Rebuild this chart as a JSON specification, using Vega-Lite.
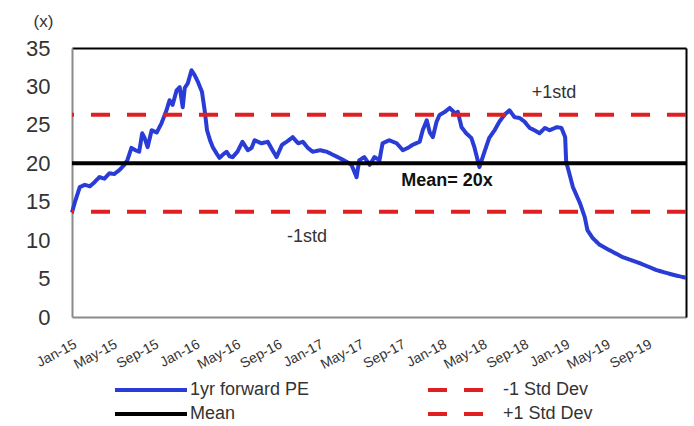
{
  "$schema": "https://vega.github.io/schema/vega-lite/v6.json",
  "width": 614,
  "height": 269,
  "autosize": "none",
  "padding": {"left": 72, "top": 48, "right": 8, "bottom": 109},
  "background": "white",
  "config": {
    "view": {"stroke": null},
    "font": "Liberation Sans",
    "legend": {
      "orient": "none", "legendX": 41, "legendY": 333,
      "columns": 2, "columnPadding": 116, "rowPadding": 6, "clipHeight": 18,
      "symbolType": "stroke", "symbolSize": 5184, "symbolStrokeWidth": 4,
      "labelFontSize": 18, "labelColor": "#333333", "labelOffset": 1, "labelLimit": 0,
      "padding": 0, "titlePadding": 0
    }
  },
  "datasets": {
    "pe": [
      {"date": "2015-01-01", "pe": 13.6}, {"date": "2015-01-10", "pe": 15.0}, {"date": "2015-01-24", "pe": 16.9},
      {"date": "2015-02-08", "pe": 17.2}, {"date": "2015-02-23", "pe": 17.0}, {"date": "2015-03-08", "pe": 17.5},
      {"date": "2015-03-23", "pe": 18.2}, {"date": "2015-04-07", "pe": 18.0}, {"date": "2015-04-22", "pe": 18.7},
      {"date": "2015-05-06", "pe": 18.6}, {"date": "2015-05-21", "pe": 19.1}, {"date": "2015-06-05", "pe": 19.8},
      {"date": "2015-06-14", "pe": 20.4}, {"date": "2015-06-26", "pe": 22.0}, {"date": "2015-07-08", "pe": 21.7},
      {"date": "2015-07-19", "pe": 21.5}, {"date": "2015-07-28", "pe": 23.9}, {"date": "2015-08-04", "pe": 23.3},
      {"date": "2015-08-13", "pe": 22.1}, {"date": "2015-08-25", "pe": 24.3}, {"date": "2015-09-09", "pe": 24.0},
      {"date": "2015-09-23", "pe": 25.2}, {"date": "2015-10-08", "pe": 26.9}, {"date": "2015-10-17", "pe": 28.2},
      {"date": "2015-10-26", "pe": 27.6}, {"date": "2015-11-07", "pe": 29.5}, {"date": "2015-11-16", "pe": 29.9},
      {"date": "2015-11-25", "pe": 27.3}, {"date": "2015-12-01", "pe": 29.8}, {"date": "2015-12-10", "pe": 30.4},
      {"date": "2015-12-21", "pe": 32.1}, {"date": "2015-12-30", "pe": 31.5}, {"date": "2016-01-09", "pe": 30.6},
      {"date": "2016-01-21", "pe": 29.3}, {"date": "2016-01-29", "pe": 26.9}, {"date": "2016-02-05", "pe": 24.3},
      {"date": "2016-02-14", "pe": 23.0}, {"date": "2016-02-22", "pe": 22.1}, {"date": "2016-03-04", "pe": 21.3},
      {"date": "2016-03-13", "pe": 20.7}, {"date": "2016-03-25", "pe": 21.2}, {"date": "2016-04-03", "pe": 21.5},
      {"date": "2016-04-12", "pe": 20.9}, {"date": "2016-04-21", "pe": 20.8}, {"date": "2016-05-05", "pe": 21.5},
      {"date": "2016-05-20", "pe": 22.8}, {"date": "2016-06-05", "pe": 21.7}, {"date": "2016-06-16", "pe": 22.0},
      {"date": "2016-06-25", "pe": 23.0}, {"date": "2016-07-15", "pe": 22.6}, {"date": "2016-08-03", "pe": 22.8},
      {"date": "2016-08-17", "pe": 21.7}, {"date": "2016-08-29", "pe": 20.8}, {"date": "2016-09-14", "pe": 22.4},
      {"date": "2016-09-28", "pe": 22.8}, {"date": "2016-10-16", "pe": 23.4}, {"date": "2016-11-01", "pe": 22.6},
      {"date": "2016-11-15", "pe": 22.8}, {"date": "2016-11-30", "pe": 22.0}, {"date": "2016-12-14", "pe": 21.5},
      {"date": "2017-01-05", "pe": 21.7}, {"date": "2017-01-25", "pe": 21.5}, {"date": "2017-02-12", "pe": 21.1},
      {"date": "2017-03-03", "pe": 20.7}, {"date": "2017-03-24", "pe": 20.2}, {"date": "2017-04-08", "pe": 19.8},
      {"date": "2017-04-23", "pe": 18.2}, {"date": "2017-05-01", "pe": 20.4}, {"date": "2017-05-16", "pe": 20.8},
      {"date": "2017-06-01", "pe": 19.8}, {"date": "2017-06-15", "pe": 20.8}, {"date": "2017-06-30", "pe": 20.4},
      {"date": "2017-07-09", "pe": 22.6}, {"date": "2017-07-29", "pe": 23.0}, {"date": "2017-08-20", "pe": 22.6},
      {"date": "2017-09-07", "pe": 21.7}, {"date": "2017-09-22", "pe": 22.0}, {"date": "2017-10-06", "pe": 22.4},
      {"date": "2017-10-27", "pe": 22.8}, {"date": "2017-11-05", "pe": 24.3}, {"date": "2017-11-17", "pe": 25.6},
      {"date": "2017-11-26", "pe": 24.0}, {"date": "2017-12-05", "pe": 23.4}, {"date": "2017-12-16", "pe": 25.4},
      {"date": "2017-12-25", "pe": 26.3}, {"date": "2018-01-10", "pe": 26.7}, {"date": "2018-01-24", "pe": 27.2},
      {"date": "2018-02-09", "pe": 26.5}, {"date": "2018-02-17", "pe": 26.7}, {"date": "2018-02-28", "pe": 24.7},
      {"date": "2018-03-14", "pe": 23.9}, {"date": "2018-03-29", "pe": 23.3}, {"date": "2018-04-07", "pe": 22.1},
      {"date": "2018-04-22", "pe": 19.5}, {"date": "2018-05-07", "pe": 21.5}, {"date": "2018-05-21", "pe": 23.3},
      {"date": "2018-06-06", "pe": 24.3}, {"date": "2018-06-20", "pe": 25.4}, {"date": "2018-07-05", "pe": 26.3},
      {"date": "2018-07-20", "pe": 26.9}, {"date": "2018-08-04", "pe": 26.0}, {"date": "2018-08-19", "pe": 25.9},
      {"date": "2018-09-03", "pe": 25.4}, {"date": "2018-09-18", "pe": 24.6}, {"date": "2018-10-02", "pe": 24.3},
      {"date": "2018-10-17", "pe": 23.9}, {"date": "2018-11-02", "pe": 24.6}, {"date": "2018-11-16", "pe": 24.3},
      {"date": "2018-12-07", "pe": 24.7}, {"date": "2018-12-21", "pe": 24.6}, {"date": "2019-01-01", "pe": 23.4},
      {"date": "2019-01-04", "pe": 20.2}, {"date": "2019-01-12", "pe": 18.9}, {"date": "2019-01-24", "pe": 16.9},
      {"date": "2019-02-14", "pe": 14.8}, {"date": "2019-02-28", "pe": 13.0}, {"date": "2019-03-08", "pe": 11.3},
      {"date": "2019-03-23", "pe": 10.3}, {"date": "2019-04-13", "pe": 9.4}, {"date": "2019-05-12", "pe": 8.7},
      {"date": "2019-06-20", "pe": 7.8}, {"date": "2019-08-10", "pe": 7.0}, {"date": "2019-09-29", "pe": 6.1},
      {"date": "2019-11-16", "pe": 5.5}, {"date": "2019-12-25", "pe": 5.1}
    ],
    "bands": [
      {"series": "-1 Std Dev", "value": 13.7},
      {"series": "Mean", "value": 20},
      {"series": "+1 Std Dev", "value": 26.3}
    ],
    "notes": [
      {"date": "2018-11-29", "value": 29.1, "label": "+1std"},
      {"date": "2016-11-27", "value": 10.4, "label": "-1std"}
    ],
    "mean_note": [
      {"date": "2018-01-16", "value": 17.7, "label": "Mean= 20x"}
    ]
  },
  "layer": [
    {
      "data": {"name": "pe"},
      "mark": {"type": "line", "strokeWidth": 4, "strokeJoin": "round"},
      "encoding": {
        "x": {
          "field": "date", "type": "temporal",
          "scale": {"type": "utc", "domain": [
            {"year": 2015, "month": 1, "date": 1, "utc": true},
            {"year": 2019, "month": 12, "date": 25, "utc": true}
          ]},
          "axis": {
            "orient": "bottom",
            "values": [
              {"year": 2015, "month": 1, "date": 1, "utc": true}, {"year": 2015, "month": 5, "date": 1, "utc": true}, {"year": 2015, "month": 9, "date": 1, "utc": true},
              {"year": 2016, "month": 1, "date": 1, "utc": true}, {"year": 2016, "month": 5, "date": 1, "utc": true}, {"year": 2016, "month": 9, "date": 1, "utc": true},
              {"year": 2017, "month": 1, "date": 1, "utc": true}, {"year": 2017, "month": 5, "date": 1, "utc": true}, {"year": 2017, "month": 9, "date": 1, "utc": true},
              {"year": 2018, "month": 1, "date": 1, "utc": true}, {"year": 2018, "month": 5, "date": 1, "utc": true}, {"year": 2018, "month": 9, "date": 1, "utc": true},
              {"year": 2019, "month": 1, "date": 1, "utc": true}, {"year": 2019, "month": 5, "date": 1, "utc": true}, {"year": 2019, "month": 9, "date": 1, "utc": true}
            ],
            "format": "%b-%y",
            "labelAngle": -28,
            "labelAlign": "right",
            "labelBaseline": "top",
            "labelPadding": 20,
            "labelFontSize": 14,
            "labelColor": "#333333",
            "labelFlush": false,
            "labelOverlap": false,
            "labelBound": false,
            "ticks": false,
            "grid": false,
            "domainColor": "#8a8a8a",
            "domainWidth": 2,
            "title": null
          }
        },
        "y": {
          "field": "pe", "type": "quantitative",
          "scale": {"domain": [0, 35], "nice": false, "zero": false},
          "axis": {
            "orient": "left",
            "values": [0, 5, 10, 15, 20, 25, 30, 35],
            "labelFontSize": 22,
            "labelPadding": 22,
            "labelColor": "#333333",
            "ticks": false,
            "grid": false,
            "domainColor": "#8a8a8a",
            "domainWidth": 2,
            "title": "(x)",
            "titleAngle": 0,
            "titleX": -29,
            "titleY": -27,
            "titleAlign": "center",
            "titleBaseline": "middle",
            "titleFontSize": 17,
            "titleFontWeight": "normal",
            "titleColor": "#333333"
          }
        },
        "color": {
          "datum": "1yr forward PE", "type": "nominal", "title": null,
          "scale": {
            "domain": ["1yr forward PE", "Mean", "-1 Std Dev", "+1 Std Dev"],
            "range": ["#2a3cd6", "#000000", "#e02020", "#e02020"]
          },
          "legend": {"title": null}
        },
        "strokeDash": {
          "datum": "1yr forward PE", "type": "nominal", "title": null,
          "scale": {
            "domain": ["1yr forward PE", "Mean", "-1 Std Dev", "+1 Std Dev"],
            "range": [[1, 0], [1, 0], [19, 17], [19, 17]]
          },
          "legend": {"title": null}
        }
      }
    },
    {
      "data": {"name": "bands"},
      "mark": {"type": "rule", "strokeWidth": 4},
      "encoding": {
        "y": {"field": "value", "type": "quantitative", "axis": null},
        "color": {
          "field": "series", "type": "nominal", "title": null,
          "scale": {
            "domain": ["1yr forward PE", "Mean", "-1 Std Dev", "+1 Std Dev"],
            "range": ["#2a3cd6", "#000000", "#e02020", "#e02020"]
          },
          "legend": {"title": null}
        },
        "strokeDash": {
          "field": "series", "type": "nominal", "title": null,
          "scale": {
            "domain": ["1yr forward PE", "Mean", "-1 Std Dev", "+1 Std Dev"],
            "range": [[1, 0], [1, 0], [19, 17], [19, 17]]
          },
          "legend": {"title": null}
        }
      }
    },
    {
      "data": {"name": "notes"},
      "mark": {"type": "text", "fontSize": 18, "color": "#333333", "align": "center", "baseline": "middle"},
      "encoding": {
        "x": {"field": "date", "type": "temporal",
          "axis": {"orient": "top", "labels": false, "ticks": false, "grid": false, "domainColor": "#000000", "domainWidth": 2, "title": null}},
        "y": {"field": "value", "type": "quantitative",
          "axis": {"orient": "right", "labels": false, "ticks": false, "grid": false, "domainColor": "#000000", "domainWidth": 2, "title": null}},
        "text": {"field": "label"}
      }
    },
    {
      "data": {"name": "mean_note"},
      "mark": {"type": "text", "fontSize": 18, "fontWeight": "bold", "color": "#111111", "align": "center", "baseline": "middle"},
      "encoding": {
        "x": {"field": "date", "type": "temporal", "axis": null},
        "y": {"field": "value", "type": "quantitative", "axis": null},
        "text": {"field": "label"}
      }
    }
  ],
  "resolve": {"axis": {"x": "independent", "y": "independent"}}
}
